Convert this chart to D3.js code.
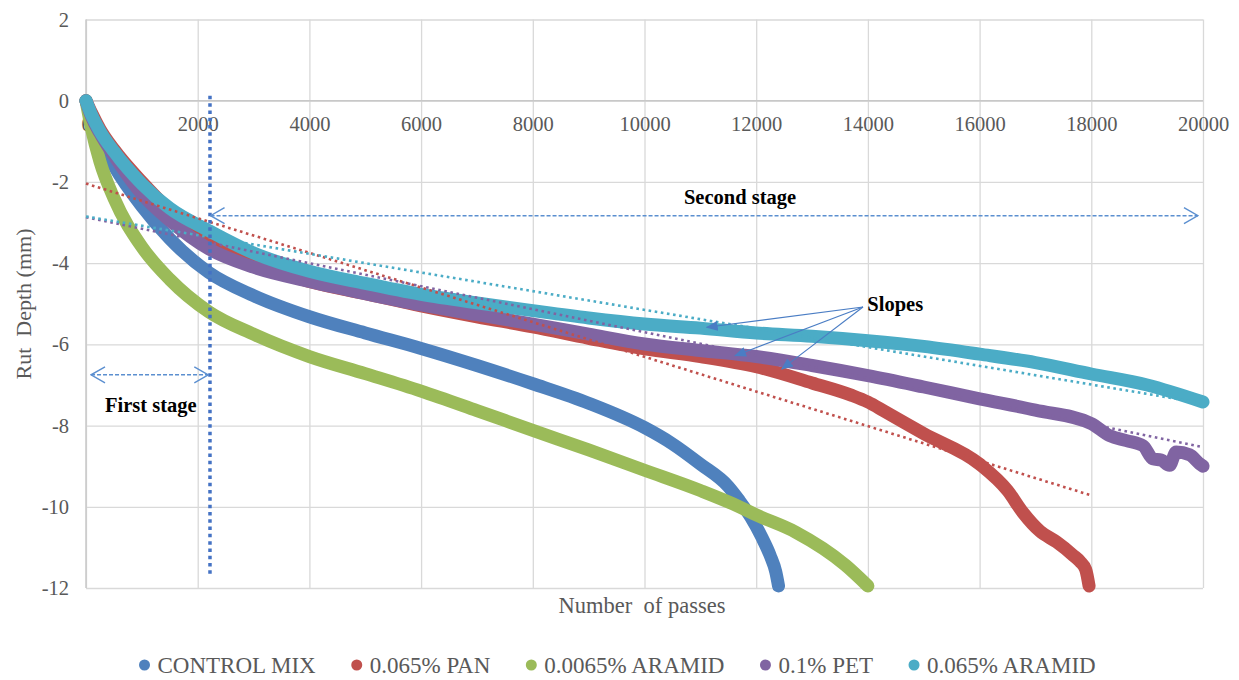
<!DOCTYPE html>
<html>
<head>
<meta charset="utf-8">
<script src="https://cdn.jsdelivr.net/npm/d3@7"></script>
<style>
body{margin:0;background:#fff}
svg{font-family:"Liberation Serif","Times New Roman",serif}
</style>
</head>
<body>
<svg id="chart" width="1239" height="680"></svg>
<script>
// rut depth (mm), [passes, depth]
var controlMix = [[0,0],[100,-0.45],[250,-0.95],[500,-1.6],[1000,-2.6],[1500,-3.4],[2200,-4.23],[3000,-4.8],[4000,-5.32],[5000,-5.72],[6000,-6.1],[7000,-6.52],[8000,-6.97],[9000,-7.45],[10000,-8.05],[10500,-8.45],[11000,-8.95],[11500,-9.5],[11700,-9.85],[11900,-10.25],[12100,-10.75],[12250,-11.2],[12350,-11.6],[12400,-11.95]]
var pan065 = [[0,0],[100,-0.3],[250,-0.7],[500,-1.2],[1000,-2.0],[1500,-2.7],[2200,-3.45],[3000,-4.0],[4000,-4.45],[5000,-4.75],[6000,-5.05],[7000,-5.32],[8000,-5.57],[9000,-5.85],[10000,-6.11],[11000,-6.3],[12000,-6.55],[13000,-6.95],[13700,-7.25],[14000,-7.42],[14300,-7.65],[15000,-8.2],[16000,-8.95],[16500,-9.6],[16780,-10.15],[17080,-10.6],[17380,-10.87],[17680,-11.2],[17800,-11.35],[17900,-11.55],[17960,-11.95]]
var aramid0065 = [[0,0],[100,-0.7],[250,-1.5],[500,-2.4],[1000,-3.6],[1500,-4.4],[2200,-5.2],[3000,-5.75],[4000,-6.3],[5000,-6.72],[6000,-7.15],[7000,-7.63],[8000,-8.12],[9000,-8.6],[10000,-9.1],[11000,-9.6],[11700,-10.0],[12000,-10.2],[12700,-10.62],[13600,-11.44],[14000,-11.95]]
var pet01 = [[0,0],[100,-0.4],[250,-0.8],[500,-1.35],[1000,-2.3],[1500,-2.95],[2200,-3.65],[3000,-4.1],[4000,-4.45],[5000,-4.75],[6000,-5.03],[7000,-5.27],[8000,-5.5],[9000,-5.75],[10000,-5.99],[11000,-6.15],[12000,-6.3],[13000,-6.52],[14000,-6.77],[15000,-7.05],[16000,-7.34],[17000,-7.62],[18000,-7.95],[18330,-8.25],[18630,-8.37],[18930,-8.5],[19100,-8.82],[19250,-8.85],[19400,-8.98],[19520,-8.65],[19760,-8.72],[19940,-8.94],[20000,-9.0]]
var aramid065 = [[0,0],[100,-0.35],[250,-0.75],[500,-1.25],[1000,-2.05],[1500,-2.65],[2200,-3.2],[3000,-3.75],[4000,-4.2],[5000,-4.5],[6000,-4.77],[7000,-4.98],[8000,-5.17],[9000,-5.35],[10000,-5.5],[11000,-5.6],[12000,-5.72],[13000,-5.8],[14000,-5.91],[15000,-6.05],[16000,-6.24],[17000,-6.45],[18000,-6.73],[19000,-7.0],[20000,-7.42]]

// linear trend lines (end points)
var panTrend = [[0,-2.04],[18000,-9.72]]
var petTrend = [[0,-2.87],[20000,-8.53]]
var aramidTrend = [[0,-2.85],[20000,-7.45]]

var seriesNames = ["CONTROL MIX", "0.065% PAN", "0.0065% ARAMID", "0.1% PET", "0.065% ARAMID"]
var seriesColors = ["#4F81BD", "#C0504D", "#9BBB59", "#8064A2", "#4BACC6"]
var xTicks = [0,2000,4000,6000,8000,10000,12000,14000,16000,18000,20000]
var yTicks = [2,0,-2,-4,-6,-8,-10,-12]

var svg = d3.select("#chart")
var plotL = 86, plotT = 19.5, plotR = 1203, plotB = 588
var x = d3.scaleLinear().domain([0, 20000]).range([plotL, plotR])
var y = d3.scaleLinear().domain([2, -12]).range([plotT, plotB])

// grid
svg.append("g").attr("transform", `translate(0,${plotB})`)
    .call(d3.axisBottom(x).tickValues(xTicks).tickSize(-(plotB - plotT)).tickFormat(""))
    .call(g => g.select(".domain").remove())
    .call(g => g.selectAll("line").attr("stroke", "#d9d9d9").attr("stroke-width", 1.3))
svg.append("g").attr("transform", `translate(${plotL},0)`)
    .call(d3.axisLeft(y).tickValues(yTicks).tickSize(-(plotR - plotL)).tickFormat(""))
    .call(g => g.select(".domain").remove())
    .call(g => g.selectAll("line").attr("stroke", "#d9d9d9").attr("stroke-width", 1.3))
svg.append("line").attr("x1", x(0)).attr("x2", x(0)).attr("y1", plotT).attr("y2", plotB)
    .attr("stroke", "#c8c8c8").attr("stroke-width", 1.5)
svg.append("line").attr("x1", plotL).attr("x2", plotR).attr("y1", y(0)).attr("y2", y(0))
    .attr("stroke", "#c8c8c8").attr("stroke-width", 1.5)

// tick labels
var xAx = svg.append("g").attr("transform", `translate(0,${y(0)})`)
    .call(d3.axisBottom(x).tickValues(xTicks).tickSize(0).tickPadding(16).tickFormat(d3.format("d")))
var yAx = svg.append("g").attr("transform", `translate(${plotL},0)`)
    .call(d3.axisLeft(y).tickValues(yTicks).tickSize(0).tickPadding(17).tickFormat(d => String(d)))
;[xAx, yAx].forEach(function(g){
    g.select(".domain").remove()
    g.selectAll("text").attr("fill", "#595959").style("font-size", "20.5px")
        .style("font-family", '"Liberation Serif","Times New Roman",serif')
})

// series
var line = d3.line().x(d => x(d[0])).y(d => y(d[1])).curve(d3.curveMonotoneX)
var allSeries = [controlMix, pan065, aramid0065, pet01, aramid065]
allSeries.forEach(function(s, i){
    svg.append("path").datum(s).attr("d", line)
        .attr("fill", "none").attr("stroke", seriesColors[i])
        .attr("stroke-width", 13).attr("stroke-linecap", "round").attr("stroke-linejoin", "round")
})

// trend lines
var straight = d3.line().x(d => x(d[0])).y(d => y(d[1]))
;[[panTrend, "#C0504D"], [petTrend, "#8064A2"], [aramidTrend, "#4BACC6"]].forEach(function(t){
    svg.append("path").datum(t[0]).attr("d", straight)
        .attr("fill", "none").attr("stroke", t[1]).attr("stroke-width", 2.6)
        .attr("stroke-dasharray", "2.6,3.6")
})

// markers
var defs = svg.append("defs")
defs.append("marker").attr("id", "chev").attr("markerUnits", "userSpaceOnUse")
    .attr("viewBox", "0 0 16 18").attr("refX", 15).attr("refY", 9)
    .attr("markerWidth", 16).attr("markerHeight", 18).attr("orient", "auto-start-reverse")
    .append("path").attr("d", "M1,1 L15,9 L1,17").attr("fill", "none")
    .attr("stroke", "#5B8FD0").attr("stroke-width", 1.4)
defs.append("marker").attr("id", "tri").attr("markerUnits", "userSpaceOnUse")
    .attr("viewBox", "0 0 12 10").attr("refX", 11).attr("refY", 5)
    .attr("markerWidth", 12).attr("markerHeight", 10).attr("orient", "auto")
    .append("path").attr("d", "M0,0 L12,5 L0,10 Z").attr("fill", "#4A7DC4")

// stage divider
svg.append("line").attr("x1", x(2220)).attr("x2", x(2220)).attr("y1", y(0.12)).attr("y2", y(-11.7))
    .attr("stroke", "#4472C4").attr("stroke-width", 3.5).attr("stroke-dasharray", "3.5,3.8")

// stage arrows
svg.append("line").attr("x1", x(2230)).attr("x2", x(19910)).attr("y1", y(-2.83)).attr("y2", y(-2.83))
    .attr("stroke", "#5B8FD0").attr("stroke-width", 1.5).attr("stroke-dasharray", "4,2")
    .attr("marker-start", "url(#chev)").attr("marker-end", "url(#chev)")
svg.append("line").attr("x1", x(90)).attr("x2", x(2190)).attr("y1", y(-6.75)).attr("y2", y(-6.75))
    .attr("stroke", "#5B8FD0").attr("stroke-width", 1.5).attr("stroke-dasharray", "4,2")
    .attr("marker-start", "url(#chev)").attr("marker-end", "url(#chev)")

// slope arrows
var slopeFrom = [13912, -5.08]
var slopeTo = [[11114, -5.58], [11620, -6.28], [12456, -6.61]]
slopeTo.forEach(function(p){
    svg.append("line").attr("x1", x(slopeFrom[0])).attr("y1", y(slopeFrom[1]))
        .attr("x2", x(p[0])).attr("y2", y(p[1]))
        .attr("stroke", "#4A7DC4").attr("stroke-width", 1.1).attr("marker-end", "url(#tri)")
})

// annotation texts
function note(txt, xv, yv, anchor){
    svg.append("text").attr("x", x(xv)).attr("y", y(yv)).attr("text-anchor", anchor)
        .attr("font-weight", "bold").attr("font-size", "20.5px").attr("fill", "#000").text(txt)
}
note("Second stage", 11710, -2.55, "middle")
note("First stage", 340, -7.66, "start")
note("Slopes", 13990, -5.18, "start")

// axis titles
svg.append("text").attr("x", 642).attr("y", 613).attr("text-anchor", "middle")
    .attr("font-size", "22.5px").attr("fill", "#595959").style("white-space", "pre")
    .text("Number  of passes")
svg.append("text").attr("transform", "translate(31,304) rotate(-90)").attr("text-anchor", "middle")
    .attr("font-size", "22px").attr("fill", "#595959").style("white-space", "pre")
    .text("Rut  Depth (mm)")

// legend
var lx = 144.5
seriesNames.forEach(function(name, i){
    svg.append("circle").attr("cx", lx).attr("cy", 665).attr("r", 5.5).attr("fill", seriesColors[i])
    var t = svg.append("text").attr("x", lx + 13).attr("y", 673).attr("font-size", "23px")
        .attr("fill", "#595959").text(name)
    lx = lx + 13 + t.node().getComputedTextLength() + 41
})
</script>
</body>
</html>
